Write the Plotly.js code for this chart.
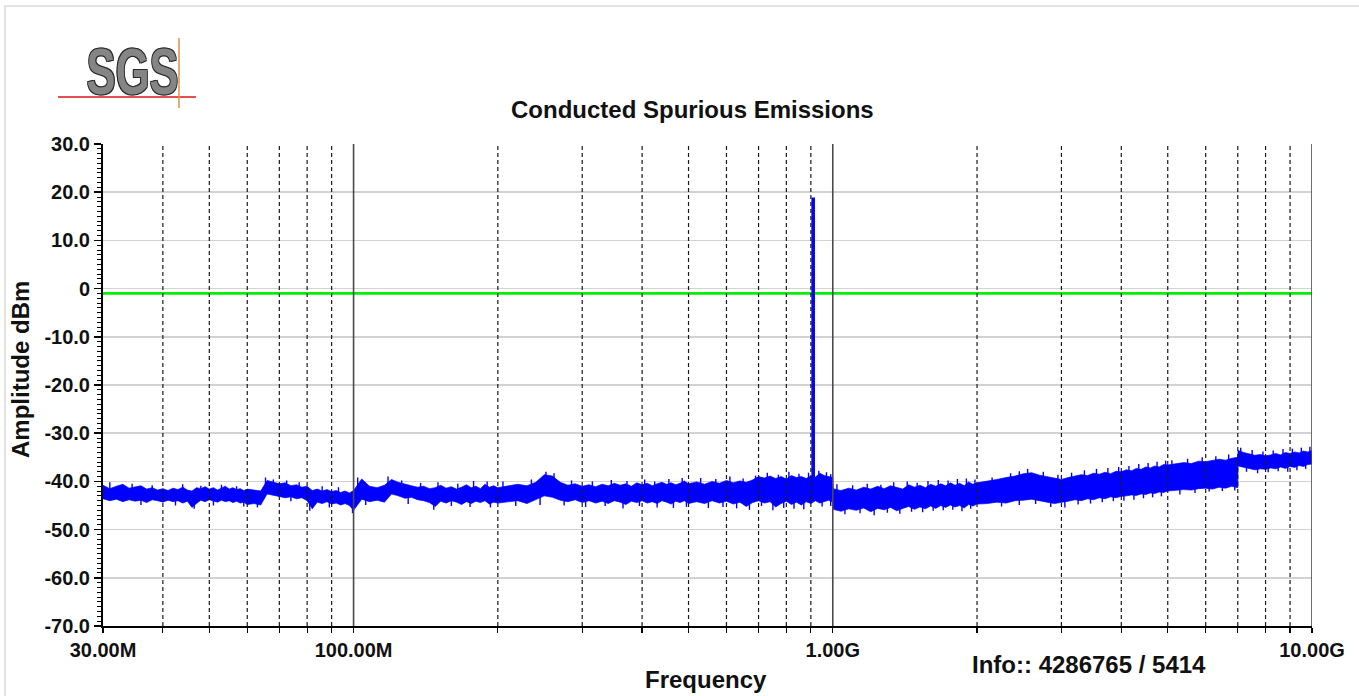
<!DOCTYPE html>
<html>
<head>
<meta charset="utf-8">
<script src="https://cdn.plot.ly/plotly-3.0.1.min.js"></script>
<style>
  html, body { margin: 0; padding: 0; background: #fff; overflow: hidden; }
  #chart { width: 1359px; height: 696px; }
  #frame { position: absolute; left: 4px; top: 5px; width: 1400px; height: 800px;
           border-left: 2px solid #e3e3e3; border-top: 2px solid #e3e3e3; pointer-events: none; }
</style>
</head>
<body>
<div id="chart"></div>
<div id="frame"></div>
<script>
// Sweep: 30 MHz .. 10 GHz, max-hold noise floor envelope (MHz / dBm)
const bandFreqMHz = [
  30, 31, 32, 33, 34, 35, 36, 37, 38, 39, 40, 41, 42, 43, 44, 45, 46, 47, 48, 49,
  50, 51, 52, 53, 54, 55, 56, 57, 58, 59, 60,
  62, 64, 66, 68, 70, 72, 74, 76, 78, 80, 82, 84, 86, 88, 90, 92, 94, 96, 98, 100,
  104, 108, 112, 116, 120, 124, 128, 132, 136, 140, 144, 148, 152, 156, 160, 164, 168, 172, 176, 180,
  184, 188, 192, 196, 200,
  210, 220, 230, 240, 250, 260, 270, 280, 290, 300, 310, 320, 330, 340, 350, 360, 370, 380, 390, 400,
  410, 420, 430, 440, 450, 460, 470, 480, 490, 500,
  520, 540, 560, 580, 600, 620, 640, 660, 680, 700, 720, 740, 760, 780, 800, 820, 840, 860, 880, 900,
  920, 940, 960, 980, 1000,
  1002, 1040, 1080, 1120, 1160, 1200, 1240, 1280, 1320, 1360, 1400, 1440, 1480, 1520, 1560, 1600,
  1640, 1680, 1720, 1760, 1800, 1840, 1880, 1920, 1960, 2000,
  2100, 2200, 2300, 2400, 2500, 2600, 2700, 2800, 2900, 3000, 3100, 3200, 3300, 3400, 3500, 3600,
  3700, 3800, 3900, 4000, 4100, 4200, 4300, 4400, 4500, 4600, 4700, 4800, 4900, 5000,
  5200, 5400, 5600, 5800, 6000, 6200, 6400, 6600, 6800, 7000, 7010, 7200, 7400, 7600, 7800, 8000,
  8200, 8400, 8600, 8800, 9000, 9200, 9400, 9600, 9800, 10000
];
const bandTopDbm = [
  -40.8, -41.5, -41.0, -40.6, -41.4, -41.2, -40.9, -41.6, -41.3, -41.8, -41.5, -41.9, -41.4, -41.7, -41.2, -41.8, -42.0, -41.3, -41.5, -41.1,
  -41.6, -41.3, -41.8, -41.4, -41.0, -41.6, -41.3, -41.7, -41.5, -41.9, -41.6,
  -41.8, -42.0, -39.8, -40.1, -40.5, -40.3, -40.9, -40.7, -41.2, -41.0, -41.9, -41.6, -42.0, -41.7, -42.1, -41.9, -42.3, -42.0, -42.4, -41.9,
  -39.5, -41.0, -41.3, -40.8, -39.6, -40.2, -40.6, -40.9, -41.2, -41.0, -41.5, -41.3, -40.8, -41.4, -41.1, -41.6, -41.2, -40.7, -41.3, -41.0,
  -41.5, -40.6, -41.2, -40.9, -41.3,
  -41.0, -40.6, -40.9, -40.2, -38.6, -38.9, -40.2, -40.8, -40.5, -41.0, -40.7, -41.1, -40.6, -40.9, -40.4, -40.8, -40.5, -41.0, -40.3, -40.7,
  -40.4, -40.9, -40.5, -40.2, -40.6, -40.3, -40.7, -40.4, -39.9, -40.5,
  -40.1, -40.6, -40.0, -40.4, -39.8, -40.3, -39.9, -40.2, -39.7, -39.0, -39.3, -38.9, -39.4, -39.0, -39.5, -38.8, -39.2, -39.0, -39.4, -38.9,
  -39.1, -38.3, -38.8, -39.0, -39.2,
  -41.5, -41.9, -41.4, -41.8, -41.2, -41.6, -41.0, -41.5, -40.9, -41.3, -41.6, -40.7, -41.2, -40.8, -41.3, -40.6,
  -41.0, -40.5, -40.9, -40.3, -40.8, -40.4, -40.9, -40.1, -40.6, -40.3,
  -40.0, -39.6, -39.2, -38.9, -38.4, -38.2, -38.7, -39.0, -39.4, -39.6, -39.2, -38.9, -38.6, -38.8, -38.3, -38.5,
  -38.1, -38.4, -37.9, -38.0, -37.6, -37.8, -37.3, -37.5, -37.0, -37.2, -36.8, -37.0, -36.5, -36.6,
  -36.4, -36.1, -36.3, -35.8, -35.9, -35.6, -35.4, -35.6, -35.2, -35.0, -33.6, -34.0, -34.3, -34.6, -34.4, -34.7,
  -34.5, -34.2, -34.5, -34.0, -34.2, -33.9, -34.1, -33.7, -33.9, -33.6
];
const bandBottomDbm = [
  -43.6, -44.0, -43.7, -44.2, -43.8, -44.1, -43.9, -44.4, -43.8, -44.0, -44.3, -43.9, -44.2, -44.0, -44.5, -44.1, -45.4, -44.6, -43.9, -44.2,
  -43.8, -44.1, -44.3, -43.9, -44.2, -44.0, -44.4, -44.1, -44.5, -44.3, -44.8,
  -44.6, -44.9, -42.6, -42.9, -43.1, -43.4, -43.2, -43.6, -43.4, -44.0, -45.7, -44.3, -44.6, -44.2, -44.7, -44.5, -44.9, -44.6, -45.0, -46.0,
  -43.7, -44.2, -43.9, -44.3, -42.6, -43.0, -43.5, -43.3, -43.8, -44.0, -44.4, -45.2, -44.1, -44.5, -44.0, -44.3, -44.8, -44.2, -44.6, -44.1,
  -44.4, -44.0, -44.7, -44.3, -44.5,
  -44.3, -44.0, -44.6, -43.8, -43.0, -43.3, -43.9, -44.2, -43.8, -44.4, -44.0, -44.5, -44.1, -44.6, -44.0, -44.3, -44.8, -44.1, -44.4, -44.0,
  -44.5, -44.2, -44.6, -44.0, -44.3, -44.7, -44.1, -44.4, -44.0, -44.6,
  -44.2, -44.6, -44.0, -44.5, -44.1, -44.7, -44.3, -45.2, -44.4, -44.0, -44.5, -44.2, -45.3, -44.6, -44.1, -44.8, -44.3, -44.9, -44.2, -44.6,
  -44.0, -44.5, -44.2, -43.9, -44.3,
  -45.8, -46.2, -45.7, -46.0, -45.5, -46.3, -45.6, -45.9, -45.4, -46.1, -45.6, -45.2, -45.8, -45.3, -45.7, -45.1,
  -45.6, -45.0, -45.4, -44.9, -45.3, -45.0, -45.5, -44.8, -45.1, -44.7,
  -44.6, -44.3, -44.5, -44.0, -43.9, -43.7, -44.0, -44.3, -44.6, -44.4, -44.1, -43.8, -44.0, -43.6, -43.8, -43.4,
  -43.6, -43.2, -43.4, -43.1, -43.0, -42.8, -42.9, -42.6, -42.7, -42.4, -42.5, -42.2, -42.3, -42.0,
  -41.9, -41.7, -41.8, -41.5, -41.4, -41.6, -41.2, -41.4, -41.0, -41.3, -36.8, -37.1, -37.3, -37.6, -37.4, -37.5,
  -37.2, -37.4, -37.0, -37.3, -36.9, -37.1, -36.7, -36.9, -36.5, -36.4
];

// Individual sweep points that stand out of the noise band (MHz, max / min dBm)
const spurFreqMHz = [
  31, 34.5, 36, 38, 42.5, 44, 46.5, 48, 51, 53, 57, 59, 63, 65.5, 68, 72.5, 74, 77, 81, 86, 89, 93, 99.5,
  102, 106, 118, 126, 130, 138, 147, 150, 160, 165, 175, 178, 190, 193,
  205, 218, 235, 245, 252, 262, 275, 285, 305, 315, 335, 345, 365, 372, 395, 405, 425, 430, 455, 465, 485, 495,
  530, 550, 570, 590, 610, 630, 650, 670, 690, 710, 730, 750, 770, 790, 810, 830, 850, 870, 890, 935, 950, 970, 990,
  1020, 1060, 1100, 1140, 1180, 1220, 1260, 1300, 1340, 1380, 1430, 1460, 1500, 1540, 1580, 1620, 1660, 1700,
  1740, 1780, 1820, 1860, 1900, 1940, 1980,
  2150, 2250, 2350, 2450, 2550, 2650, 2750, 2850, 2950, 3050, 3150, 3250, 3350, 3450, 3550, 3650, 3750, 3850,
  3950, 4050, 4150, 4250, 4350, 4450, 4550, 4650, 4750, 4850, 4950,
  5100, 5300, 5500, 5700, 5900, 6100, 6300, 6500, 6700, 6900, 7100, 7300, 7500, 7700, 7900, 8100, 8300, 8500,
  8700, 8900, 9100, 9300, 9500, 9700, 9900
];
const spurMaxDbm = [
  -40.2, -40.5, -42.0, -40.8, -42.2, -40.6, -42.3, -40.9, -42.0, -40.7, -41.0, -42.2, -42.4, -39.2, -39.6, -39.8, -41.0, -40.2, -42.0, -41.0, -42.5, -41.2, -42.5,
  -39.2, -41.6, -39.0, -39.8, -41.5, -40.3, -42.0, -40.2, -42.0, -40.5, -42.2, -39.9, -40.0, -42.1,
  -40.0, -42.0, -39.6, -41.7, -38.0, -38.3, -41.8, -39.8, -42.0, -40.0, -41.9, -39.7, -42.0, -39.9, -41.8, -39.6, -40.0, -41.9, -39.5, -41.8, -39.3, -41.9,
  -39.3, -41.8, -39.5, -41.6, -39.0, -41.7, -39.4, -41.6, -38.8, -41.4, -38.2, -41.5, -38.6, -41.5, -38.0, -41.4, -38.4, -41.5, -38.2, -37.8, -41.3, -38.1, -38.5,
  -40.6, -43.0, -40.8, -43.0, -40.5, -43.0, -40.7, -42.8, -40.2, -42.9, -40.0, -42.6, -40.3, -42.7, -39.9, -42.4, -39.7, -42.3,
  -39.8, -42.2, -39.5, -42.3, -39.4, -42.0, -39.6,
  -39.2, -41.5, -38.3, -37.9, -37.4, -40.8, -38.0, -41.5, -38.6, -41.5, -38.2, -41.0, -37.7, -40.8, -37.4, -40.5, -37.2, -40.3,
  -37.0, -40.2, -36.8, -40.0, -36.4, -39.8, -36.2, -39.6, -35.9, -39.4, -35.7,
  -35.6, -38.8, -35.3, -38.6, -35.0, -38.4, -34.8, -38.2, -34.4, -38.0, -33.0, -35.0, -33.5, -35.3, -33.8, -35.2, -33.6, -35.0,
  -33.3, -35.0, -33.2, -34.8, -33.0, -34.6, -32.8
];
const spurMinDbm = [
  -43.0, -43.2, -44.9, -43.0, -45.0, -43.1, -45.7, -43.2, -45.0, -43.0, -43.3, -45.2, -45.4, -42.0, -42.0, -42.2, -44.1, -42.4, -46.1, -43.2, -45.4, -43.5, -46.6,
  -42.2, -44.9, -41.8, -42.0, -44.7, -42.5, -45.9, -42.6, -45.1, -42.8, -45.3, -42.3, -42.5, -45.4,
  -42.3, -45.1, -42.0, -44.9, -41.0, -41.2, -45.0, -42.2, -45.3, -42.4, -45.1, -42.0, -45.6, -42.2, -45.1, -42.0, -42.2, -45.4, -41.9, -45.5, -41.8, -45.3,
  -41.8, -45.5, -41.9, -45.3, -41.6, -45.6, -41.8, -45.9, -41.5, -45.1, -41.0, -46.0, -41.2, -45.5, -41.0, -45.7, -41.0, -45.8, -41.0, -40.8, -45.2, -40.9, -45.1,
  -43.5, -46.8, -43.6, -46.6, -43.4, -47.0, -43.5, -46.5, -43.2, -46.7, -43.0, -46.3, -43.2, -46.4, -42.9, -46.1, -42.7, -46.0,
  -42.7, -45.9, -42.5, -46.2, -42.4, -45.7, -42.4,
  -42.2, -45.2, -41.5, -44.9, -40.8, -44.7, -41.2, -45.3, -41.7, -45.4, -41.4, -44.8, -40.9, -44.6, -40.6, -44.3, -40.4, -44.1,
  -40.2, -44.0, -40.0, -43.8, -39.6, -43.5, -39.4, -43.3, -39.1, -43.1, -38.9,
  -38.8, -42.7, -38.6, -42.4, -38.3, -42.1, -38.0, -42.0, -37.8, -41.9, -35.5, -38.0, -35.8, -38.3, -36.0, -38.1, -35.8, -37.9,
  -35.6, -38.0, -35.5, -37.7, -35.3, -37.4, -35.2
];

// Carrier peak and limit line
const carrierFreqMHz = 910;
const carrierPeakDbm = 18.9;
const carrierBaseDbm = -40.0;
const limitDbm = -1.0;

// Axes
const sweepStartMHz = 30;
const sweepStopMHz = 10000;
const labelFreqMHz = [30, 100, 1000, 10000];
const labelFreqText = ['30.00M', '100.00M', '1.00G', '10.00G'];
const majorGridMHz = [100, 1000, 10000];
const minorGridMHz = [40, 50, 60, 70, 80, 90, 200, 300, 400, 500, 600, 700, 800, 900,
                      2000, 3000, 4000, 5000, 6000, 7000, 8000, 9000];
const ampTickVals = [30, 20, 10, 0, -10, -20, -30, -40, -50, -60, -70];
const ampTickText = ['30.0', '20.0', '10.0', '0', '-10.0', '-20.0', '-30.0', '-40.0', '-50.0', '-60.0', '-70.0'];

const FONT = 'Liberation Sans, Arial, Helvetica, sans-serif';
const W = 1359, H = 696;
const M = { l: 103, r: 47, t: 144, b: 70 };
const PW = W - M.l - M.r, PH = H - M.t - M.b;
const px = x => (x - M.l) / PW;           // page x -> paper x
const py = y => (H - M.b - y) / PH;       // page y -> paper y

// x tick marks at every grid frequency, labelled only at decades
const xTickVals = [sweepStartMHz].concat(minorGridMHz, majorGridMHz).sort((a, b) => a - b);
const xTickText = xTickVals.map(v => {
  const i = labelFreqMHz.indexOf(v);
  return i >= 0 ? labelFreqText[i] : '';
});

const BLUE = '#0000ff';
const bandTrace = {
  type: 'scatter', mode: 'lines',
  x: bandFreqMHz.concat(bandFreqMHz.slice().reverse()),
  y: bandTopDbm.concat(bandBottomDbm.slice().reverse()),
  fill: 'toself', fillcolor: BLUE,
  line: { color: 'rgba(0,0,255,0.7)', width: 1 },
  hoverinfo: 'skip', showlegend: false
};
// each outlying sweep point drawn as a vertical stroke from its min to its max
const spurX = [], spurY = [];
spurFreqMHz.forEach((f, i) => { spurX.push(f, f, null); spurY.push(spurMaxDbm[i], spurMinDbm[i], null); });
const spurTrace = {
  type: 'scatter', mode: 'lines', x: spurX, y: spurY,
  line: { color: BLUE, width: 1.4 }, connectgaps: false,
  hoverinfo: 'skip', showlegend: false
};
const limitTrace = {
  type: 'scatter', mode: 'lines',
  x: [sweepStartMHz, sweepStopMHz], y: [limitDbm, limitDbm],
  line: { color: '#00f000', width: 2.6 },
  hoverinfo: 'skip', showlegend: false
};
const carrierTrace = {
  type: 'scatter', mode: 'lines',
  x: [carrierFreqMHz, carrierFreqMHz], y: [carrierBaseDbm, carrierPeakDbm],
  line: { color: BLUE, width: 3.6 },
  hoverinfo: 'skip', showlegend: false
};

const shapes = [];
minorGridMHz.forEach(f => shapes.push({
  type: 'line', xref: 'x', yref: 'paper', x0: f, x1: f, y0: 0, y1: 1, layer: 'above',
  line: { color: '#1a1a1a', width: 1.2, dash: '4px,3px' }
}));
majorGridMHz.forEach(f => shapes.push({
  type: 'line', xref: 'x', yref: 'paper', x0: f, x1: f, y0: 0, y1: 1, layer: 'above',
  line: { color: '#4a4a4a', width: 1.6 }
}));
// logo rules
shapes.push({ type: 'line', xref: 'paper', yref: 'paper', x0: px(58), x1: px(196), y0: py(97), y1: py(97),
  line: { color: '#e01515', width: 1.5 } });
shapes.push({ type: 'line', xref: 'paper', yref: 'paper', x0: px(179), x1: px(179), y0: py(38), y1: py(108),
  line: { color: '#d8924a', width: 1.5 } });

const tickFont = { family: FONT, size: 20, color: '#111', weight: 'bold' };

const layout = {
  width: W, height: H,
  margin: M,
  paper_bgcolor: '#fff', plot_bgcolor: '#fff',
  showlegend: false,
  xaxis: {
    type: 'log', range: [Math.log10(sweepStartMHz), Math.log10(sweepStopMHz)],
    tickmode: 'array', tickvals: xTickVals, ticktext: xTickText,
    ticks: 'outside', ticklen: 5, tickwidth: 1.2, tickcolor: '#000',
    showgrid: false, zeroline: false,
    showline: true, linecolor: '#000', linewidth: 2,
    tickfont: tickFont, layer: 'above traces', fixedrange: true
  },
  xaxis2: {
    type: 'log', overlaying: 'x', anchor: 'y',
    range: [Math.log10(sweepStartMHz), Math.log10(sweepStopMHz)],
    tickmode: 'array', tickvals: xTickVals,
    ticks: 'inside', ticklen: 4, tickwidth: 1.2, tickcolor: '#000',
    showticklabels: false, showgrid: false, zeroline: false, showline: false,
    layer: 'above traces', fixedrange: true
  },
  yaxis: {
    range: [-70, 30],
    tickmode: 'array', tickvals: ampTickVals, ticktext: ampTickText,
    ticks: 'outside', ticklen: 7, tickwidth: 1.5, tickcolor: '#000',
    minor: { tickmode: 'linear', tick0: 0, dtick: 1, ticks: 'outside', ticklen: 4, tickwidth: 1, tickcolor: '#000', showgrid: false },
    showgrid: true, gridcolor: '#d2d2d2', gridwidth: 1.5, zeroline: false,
    showline: true, linecolor: '#000', linewidth: 2,
    tickfont: tickFont, layer: 'above traces', fixedrange: true
  },
  yaxis2: {
    overlaying: 'y', anchor: 'x', side: 'left', range: [-70, 30],
    tickmode: 'array', tickvals: ampTickVals,
    ticks: 'inside', ticklen: 6, tickwidth: 1.5, tickcolor: '#000',
    minor: { tickmode: 'linear', tick0: 0, dtick: 1, ticks: 'inside', ticklen: 4, tickwidth: 1, tickcolor: '#000', showgrid: false },
    showticklabels: false, showgrid: false, zeroline: false, showline: false,
    layer: 'above traces', fixedrange: true
  },
  shapes: shapes,
  annotations: [
    { xref: 'paper', yref: 'paper', x: px(132), y: py(72), showarrow: false,
      text: 'SGS', xanchor: 'center', yanchor: 'middle',
      font: { family: FONT, size: 64, weight: 'bold', color: '#858585',
              shadow: '-1px -1px 0 #2a2a2a, 1px -1px 0 #2a2a2a, -1px 1px 0 #2a2a2a, 1px 1px 0 #2a2a2a' } },
    { xref: 'paper', yref: 'paper', x: px(692), y: py(109), showarrow: false,
      text: 'Conducted Spurious Emissions', xanchor: 'center', yanchor: 'middle',
      font: { family: FONT, size: 24, weight: 'bold', color: '#111' } },
    { xref: 'paper', yref: 'paper', x: px(20), y: py(370), showarrow: false, textangle: -90,
      text: 'Amplitude dBm', xanchor: 'center', yanchor: 'middle',
      font: { family: FONT, size: 24, weight: 'bold', color: '#111' } },
    { xref: 'paper', yref: 'paper', x: px(706), y: py(679), showarrow: false,
      text: 'Frequency', xanchor: 'center', yanchor: 'middle',
      font: { family: FONT, size: 24, weight: 'bold', color: '#111' } },
    { xref: 'paper', yref: 'paper', x: px(1089), y: py(664), showarrow: false,
      text: 'Info:: 4286765 / 5414', xanchor: 'center', yanchor: 'middle',
      font: { family: FONT, size: 24, weight: 'bold', color: '#111' } }
  ]
};

Plotly.newPlot('chart', [bandTrace, spurTrace, limitTrace, carrierTrace], layout,
               { displayModeBar: false, staticPlot: true }).then(gd => {
  // condensed logo lettering
  gd.querySelectorAll('.annotation-text').forEach(t => {
    if (t.textContent === 'SGS') {
      const b = t.getBBox();
      const cx = b.x + b.width / 2;
      const prev = t.getAttribute('transform') || '';
      t.setAttribute('transform', prev + ' translate(' + cx + ',0) scale(0.68,1) translate(' + (-cx) + ',0)');
    }
  });
});
</script>
</body>
</html>
